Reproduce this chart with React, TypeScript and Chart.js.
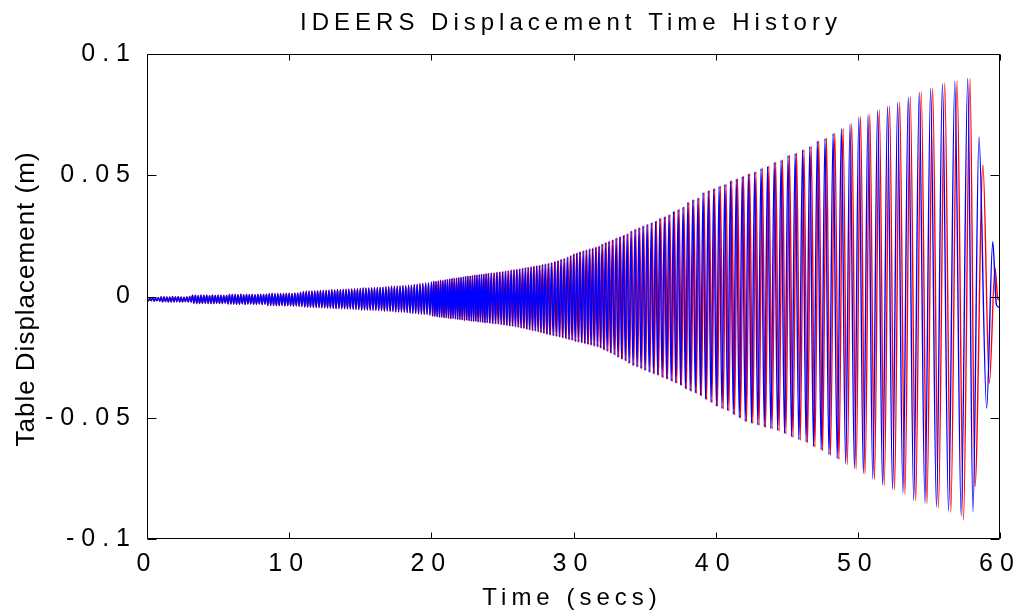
import React, { useEffect, useRef } from "react";
import { Chart, registerables } from "chart.js";

Chart.register(...registerables);

const chartTitle = "IDEERS Displacement Time History";
const xAxisTitle = "Time (secs)";
const yAxisTitle = "Table Displacement (m)";

const xTicks = [0, 10, 20, 30, 40, 50, 60];
const yTicks = [-0.1, -0.05, 0, 0.05, 0.1];
const yTickLabels = ["-0.1", "-0.05", "0", "0.05", "0.1"];

// Early part (0-20 s): dense, unresolvable oscillation band, sampled at its extremes
const earlyTimes = [
  0, 0.1, 0.2, 0.3, 0.4, 0.5, 0.6, 0.7, 0.8, 0.9,
  1, 1.1, 1.2, 1.3, 1.4, 1.5, 1.6, 1.7, 1.8, 1.9,
  2, 2.1, 2.2, 2.3, 2.4, 2.5, 2.6, 2.7, 2.8, 2.9,
  3, 3.1, 3.2, 3.3, 3.4, 3.5, 3.6, 3.7, 3.8, 3.9,
  4, 4.1, 4.2, 4.3, 4.4, 4.5, 4.6, 4.7, 4.8, 4.9,
  5, 5.1, 5.2, 5.3, 5.4, 5.5, 5.6, 5.7, 5.8, 5.9,
  6, 6.1, 6.2, 6.3, 6.4, 6.5, 6.6, 6.7, 6.8, 6.9,
  7, 7.1, 7.2, 7.3, 7.4, 7.5, 7.6, 7.7, 7.8, 7.9,
  8, 8.1, 8.2, 8.3, 8.4, 8.5, 8.6, 8.7, 8.8, 8.9,
  9, 9.1, 9.2, 9.3, 9.4, 9.5, 9.6, 9.7, 9.8, 9.9,
  10, 10.1, 10.2, 10.3, 10.4, 10.5, 10.6, 10.7, 10.8, 10.9,
  11, 11.1, 11.2, 11.3, 11.4, 11.5, 11.6, 11.7, 11.8, 11.9,
  12, 12.1, 12.2, 12.3, 12.4, 12.5, 12.6, 12.7, 12.8, 12.9,
  13, 13.1, 13.2, 13.3, 13.4, 13.5, 13.6, 13.7, 13.8, 13.9,
  14, 14.1, 14.2, 14.3, 14.4, 14.5, 14.6, 14.7, 14.8, 14.9,
  15, 15.1, 15.2, 15.3, 15.4, 15.5, 15.6, 15.7, 15.8, 15.9,
  16, 16.1, 16.2, 16.3, 16.4, 16.5, 16.6, 16.7, 16.8, 16.9,
  17, 17.1, 17.2, 17.3, 17.4, 17.5, 17.6, 17.7, 17.8, 17.9,
  18, 18.1, 18.2, 18.3, 18.4, 18.5, 18.6, 18.7, 18.8, 18.9,
  19, 19.1, 19.2, 19.3, 19.4, 19.5, 19.6, 19.7, 19.8, 19.9,
];

const blueEarly = [
  -0.0006, -0.0018, -0.0007, -0.0017, -0.0005, -0.0019, -0.0006, -0.0018, -0.0005, -0.0019,
  -0.0002, -0.0022, -0.0001, -0.0021, -0.0003, -0.0022, -0.0002, -0.0023, -0.0001, -0.0022,
  -0.0002, -0.0021, -0.0001, -0.0023, -0.0002, -0.0022, -0.0003, -0.0021, -0.0002, -0.0022,
  -0.0001, -0.0023, 0.0004, -0.0028, 0.0005, -0.0027, 0.0003, -0.0029, 0.0004, -0.0028,
  0.0005, -0.0027, 0.0004, -0.0028, 0.0003, -0.0029, 0.0005, -0.0028, 0.0004, -0.0027,
  0.0004, -0.0029, 0.0005, -0.0028, 0.0003, -0.0027, 0.0004, -0.0031, 0.0007, -0.003,
  0.0008, -0.0031, 0.0006, -0.0032, 0.0007, -0.0031, 0.0008, -0.003, 0.0006, -0.0032,
  0.0007, -0.0031, 0.0008, -0.003, 0.0007, -0.0032, 0.0006, -0.0031, 0.0008, -0.0031,
  0.0007, -0.0032, 0.0008, -0.0031, 0.0009, -0.0036, 0.0012, -0.0037, 0.0013, -0.0036,
  0.0012, -0.0038, 0.0011, -0.0037, 0.0013, -0.0036, 0.0012, -0.0038, 0.0014, -0.0037,
  0.0013, -0.0038, 0.0012, -0.0039, 0.0014, -0.0038, 0.0015, -0.004, 0.0017, -0.0041,
  0.002, -0.0043, 0.0022, -0.0044, 0.0021, -0.0045, 0.0023, -0.0044, 0.0022, -0.0046,
  0.0024, -0.0045, 0.0023, -0.0047, 0.0025, -0.0046, 0.0024, -0.0048, 0.0026, -0.0047,
  0.0027, -0.0049, 0.0028, -0.005, 0.0029, -0.0049, 0.0028, -0.0051, 0.003, -0.005,
  0.0029, -0.0052, 0.0031, -0.0051, 0.003, -0.0053, 0.0032, -0.0052, 0.0031, -0.0054,
  0.0033, -0.0055, 0.0034, -0.0056, 0.0035, -0.0055, 0.0034, -0.0057, 0.0036, -0.0056,
  0.0035, -0.0058, 0.0037, -0.0057, 0.0036, -0.0059, 0.0038, -0.006, 0.0039, -0.0059,
  0.004, -0.0061, 0.0041, -0.0062, 0.0042, -0.0063, 0.0041, -0.0064, 0.0043, -0.0063,
  0.0044, -0.0065, 0.0045, -0.0066, 0.0046, -0.0068, 0.0048, -0.0069, 0.005, -0.007,
  0.0051, -0.0071, 0.0052, -0.0073, 0.0054, -0.0072, 0.0055, -0.0074, 0.0057, -0.0076,
];

const redEarly = [
  -0.0005, -0.0019, -0.0006, -0.0018, -0.0004, -0.002, -0.0007, -0.0017, -0.0004, -0.002,
  0.0, -0.0023, -0.0002, -0.0021, -0.0001, -0.0024, -0.0002, -0.0022, 0.0, -0.0023,
  -0.0001, -0.0022, 0.0, -0.0022, -0.0002, -0.0024, -0.0002, -0.0021, -0.0001, -0.0023,
  0.0001, -0.0022, 0.0006, -0.0027, 0.0004, -0.003, 0.0004, -0.0028, 0.0006, -0.0029,
  0.0004, -0.0028, 0.0006, -0.0029, 0.0003, -0.0028, 0.0006, -0.003, 0.0004, -0.0028,
  0.0006, -0.0028, 0.0004, -0.003, 0.0005, -0.0027, 0.0004, -0.003, 0.0009, -0.0032,
  0.0007, -0.0031, 0.0009, -0.0031, 0.0006, -0.0033, 0.0009, -0.003, 0.0007, -0.0033,
  0.0009, -0.003, 0.0007, -0.0032, 0.0009, -0.0031, 0.0007, -0.0033, 0.0008, -0.003,
  0.0009, -0.0033, 0.0007, -0.0032, 0.001, -0.0037, 0.0013, -0.0036, 0.0014, -0.0038,
  0.0012, -0.0037, 0.0014, -0.0038, 0.0012, -0.0037, 0.0014, -0.0039, 0.0013, -0.0038,
  0.0015, -0.0037, 0.0013, -0.004, 0.0015, -0.0039, 0.0014, -0.0041, 0.0018, -0.004,
  0.0021, -0.0044, 0.0021, -0.0045, 0.0023, -0.0044, 0.0022, -0.0046, 0.0024, -0.0045,
  0.0023, -0.0047, 0.0025, -0.0046, 0.0024, -0.0048, 0.0026, -0.0047, 0.0025, -0.0049,
  0.0029, -0.0048, 0.0027, -0.0051, 0.003, -0.005, 0.0029, -0.005, 0.0029, -0.0052,
  0.0031, -0.0051, 0.003, -0.0053, 0.0032, -0.0052, 0.0031, -0.0054, 0.0033, -0.0053,
  0.0032, -0.0056, 0.0036, -0.0055, 0.0034, -0.0057, 0.0036, -0.0056, 0.0035, -0.0058,
  0.0037, -0.0057, 0.0036, -0.0059, 0.0038, -0.0058, 0.0037, -0.0061, 0.004, -0.006,
  0.0039, -0.0062, 0.0043, -0.0061, 0.0041, -0.0064, 0.0043, -0.0063, 0.0042, -0.0065,
  0.0046, -0.0064, 0.0044, -0.0067, 0.0048, -0.0067, 0.0047, -0.007, 0.0051, -0.0069,
  0.005, -0.0072, 0.0054, -0.0072, 0.0053, -0.0074, 0.0056, -0.0073, 0.0056, -0.0077,
];

// Later part (20-60 s): blue trace extremes (time, value)
const blueTimes = [
  20.0, 20.08, 20.16, 20.24, 20.32, 20.4, 20.48, 20.56, 20.64, 20.72,
  20.8, 20.88, 20.96, 21.04, 21.12, 21.2, 21.28, 21.36, 21.44, 21.52,
  21.6, 21.68, 21.76, 21.84, 21.92, 22.0, 22.08, 22.16, 22.24, 22.32,
  22.4, 22.48, 22.56, 22.64, 22.72, 22.8, 22.88, 22.96, 23.04, 23.12,
  23.2, 23.28, 23.36, 23.44, 23.52, 23.6, 23.68, 23.76, 23.84, 23.92,
  24.0, 24.1, 24.2, 24.3, 24.4, 24.5, 24.6, 24.7, 24.8, 24.9,
  25.0, 25.1, 25.2, 25.3, 25.4, 25.5, 25.6, 25.7, 25.8, 25.9,
  26.0, 26.1, 26.2, 26.3, 26.4, 26.5, 26.6, 26.7, 26.8, 26.9,
  27.0, 27.1, 27.2, 27.3, 27.4, 27.5, 27.6, 27.7, 27.8, 27.9,
  28.0, 28.11, 28.22, 28.33, 28.44, 28.56, 28.67, 28.78, 28.89, 29.0,
  29.11, 29.22, 29.33, 29.44, 29.56, 29.67, 29.78, 29.89, 30.0, 30.11,
  30.22, 30.33, 30.44, 30.56, 30.67, 30.78, 30.89, 31.0, 31.11, 31.22,
  31.33, 31.44, 31.56, 31.67, 31.78, 31.89,
  32.0, 32.12, 32.24, 32.36, 32.48, 32.6, 32.73, 32.86, 32.99, 33.12,
  33.25, 33.38, 33.51, 33.64, 33.77, 33.9, 34.04, 34.18, 34.32, 34.46,
  34.6, 34.74, 34.88, 35.02, 35.17, 35.32, 35.47, 35.62, 35.77, 35.92,
  36.07, 36.23, 36.39, 36.55, 36.71, 36.87, 37.03, 37.19, 37.36, 37.53,
  37.7, 37.87, 38.04, 38.21, 38.39, 38.57, 38.75, 38.93, 39.11, 39.29,
  39.48, 39.67, 39.86, 40.05, 40.24, 40.44, 40.64, 40.84, 41.04, 41.24,
  41.45, 41.66, 41.87, 42.08, 42.3, 42.52, 42.74, 42.96, 43.19, 43.42,
  43.65, 43.88, 44.12, 44.36, 44.6, 44.84, 45.09, 45.34, 45.59, 45.85,
  46.11, 46.36, 46.62, 46.88, 47.15, 47.42, 47.69, 47.97, 48.26, 48.55,
  48.84, 49.14, 49.45, 49.76, 50.07, 50.39, 50.72, 51.05, 51.39, 51.74,
  52.09, 52.44, 52.8, 53.17, 53.55, 53.93, 54.32, 54.72, 55.12, 55.53,
  55.95, 56.38, 56.82, 57.27, 57.73, 58.1, 58.52, 59.06, 59.49, 59.75,
  60.0,
];

const blueValues = [
  0.006, -0.008, 0.0062, -0.0082, 0.0061, -0.0083, 0.0064, -0.0084, 0.0066, -0.0085,
  0.0065, -0.0087, 0.0068, -0.0088, 0.007, -0.0089, 0.0071, -0.0091, 0.0073, -0.009,
  0.0075, -0.0092, 0.0074, -0.0094, 0.0077, -0.0095, 0.0079, -0.0096, 0.008, -0.0098,
  0.0082, -0.0097, 0.0084, -0.0099, 0.0083, -0.0101, 0.0086, -0.0102, 0.0087, -0.0101,
  0.0089, -0.0104, 0.009, -0.0105, 0.0092, -0.0106, 0.0091, -0.0108, 0.0094, -0.0107,
  0.0095, -0.0109, 0.0097, -0.0111, 0.0096, -0.0112, 0.0099, -0.0114, 0.0101, -0.0115,
  0.0102, -0.0117, 0.0104, -0.0118, 0.0106, -0.0121, 0.0108, -0.0122, 0.011, -0.0124,
  0.0112, -0.0126, 0.0113, -0.0129, 0.0115, -0.0131, 0.0118, -0.0134, 0.012, -0.0137,
  0.0122, -0.014, 0.0124, -0.0142, 0.0126, -0.0145, 0.0128, -0.0148, 0.0131, -0.0151,
  0.0133, -0.0155, 0.0136, -0.0158, 0.0139, -0.0161, 0.0143, -0.0164, 0.0147, -0.0167,
  0.0152, -0.017, 0.0157, -0.0173, 0.0162, -0.0177, 0.0168, -0.018, 0.0175, -0.0185,
  0.0179, -0.0188, 0.0184, -0.019, 0.0188, -0.0194, 0.0193, -0.0197, 0.0196, -0.02,
  0.0199, -0.0204, 0.0203, -0.0207, 0.0207, -0.0212,
  0.0216, -0.0219, 0.0222, -0.0226, 0.0227, -0.0233, 0.0233, -0.024, 0.024, -0.0251,
  0.0246, -0.0258, 0.0252, -0.0265, 0.0258, -0.0276, 0.0269, -0.0284, 0.0276, -0.029,
  0.0283, -0.0296, 0.029, -0.0305, 0.0297, -0.0312, 0.0303, -0.0318, 0.031, -0.0324,
  0.0322, -0.0333, 0.0328, -0.034, 0.0336, -0.0348, 0.035, -0.0356, 0.0358, -0.0366,
  0.0368, -0.038, 0.0388, -0.039, 0.0398, -0.0398, 0.0405, -0.0408, 0.0428, -0.0424,
  0.0436, -0.0436, 0.0444, -0.0452, 0.0455, -0.0462, 0.0462, -0.047, 0.0476, -0.0486,
  0.0484, -0.05, 0.0495, -0.0515, 0.0505, -0.0522, 0.0513, -0.053, 0.0528, -0.0538,
  0.0536, -0.0544, 0.0553, -0.0552, 0.0562, -0.0565, 0.0581, -0.0578, 0.059, -0.059,
  0.0604, -0.06, 0.0618, -0.0618, 0.064, -0.0632, 0.0652, -0.0652, 0.0672, -0.0668,
  0.0692, -0.069, 0.0712, -0.071, 0.074, -0.073, 0.075, -0.0752, 0.0768, -0.0778,
  0.0785, -0.0795, 0.08, -0.0812, 0.0822, -0.084, 0.0842, -0.0852, 0.0858, -0.0868,
  0.0878, -0.0885, 0.0888, -0.0905, 0.09, -0.0887, 0.0658, -0.046, 0.0226, -0.0035,
  -0.0045,
];

// Later part (20-60 s): red trace extremes (time, value)
const redTimes = [
  20.03, 20.11, 20.19, 20.27, 20.35, 20.43, 20.51, 20.59, 20.67, 20.75,
  20.83, 20.91, 20.99, 21.07, 21.15, 21.23, 21.31, 21.39, 21.47, 21.55,
  21.63, 21.71, 21.79, 21.87, 21.95, 22.03, 22.11, 22.19, 22.27, 22.35,
  22.43, 22.51, 22.59, 22.67, 22.75, 22.83, 22.91, 22.99, 23.07, 23.15,
  23.23, 23.31, 23.39, 23.47, 23.55, 23.63, 23.71, 23.79, 23.87, 23.95,
  24.04, 24.14, 24.24, 24.34, 24.44, 24.54, 24.64, 24.74, 24.84, 24.94,
  25.04, 25.14, 25.24, 25.34, 25.44, 25.54, 25.64, 25.74, 25.84, 25.94,
  26.04, 26.14, 26.24, 26.34, 26.44, 26.54, 26.64, 26.74, 26.84, 26.94,
  27.04, 27.14, 27.24, 27.34, 27.44, 27.54, 27.64, 27.74, 27.84, 27.94,
  28.05, 28.16, 28.27, 28.38, 28.49, 28.61, 28.72, 28.83, 28.94, 29.05,
  29.16, 29.27, 29.38, 29.49, 29.61, 29.72, 29.83, 29.94, 30.05, 30.16,
  30.27, 30.38, 30.49, 30.61, 30.72, 30.83, 30.94, 31.05, 31.16, 31.27,
  31.38, 31.49, 31.61, 31.72, 31.83, 31.94,
  32.06, 32.18, 32.3, 32.42, 32.54, 32.66, 32.79, 32.92, 33.05, 33.18,
  33.31, 33.44, 33.57, 33.7, 33.83, 33.96, 34.1, 34.24, 34.38, 34.52,
  34.66, 34.8, 34.94, 35.08, 35.23, 35.38, 35.53, 35.68, 35.83, 35.98,
  36.14, 36.3, 36.46, 36.62, 36.78, 36.94, 37.1, 37.26, 37.43, 37.6,
  37.77, 37.94, 38.11, 38.28, 38.46, 38.64, 38.82, 39.0, 39.18, 39.36,
  39.55, 39.74, 39.93, 40.12, 40.33, 40.53, 40.73, 40.93, 41.13, 41.33,
  41.54, 41.75, 41.96, 42.17, 42.39, 42.61, 42.83, 43.05, 43.28, 43.51,
  43.74, 43.97, 44.22, 44.46, 44.7, 44.94, 45.19, 45.44, 45.69, 45.95,
  46.21, 46.46, 46.72, 46.98, 47.25, 47.52, 47.79, 48.07, 48.38, 48.67,
  48.96, 49.26, 49.57, 49.88, 50.19, 50.51, 50.84, 51.17, 51.51, 51.86,
  52.23, 52.58, 52.94, 53.31, 53.69, 54.07, 54.46, 54.86, 55.26, 55.67,
  56.11, 56.54, 56.98, 57.43, 57.89, 58.24, 58.8, 59.25, 59.65, 59.85,
  60.0,
];

const redValues = [
  0.0058, -0.0081, 0.0063, -0.008, 0.0062, -0.0084, 0.0063, -0.0086, 0.0067, -0.0084,
  0.0066, -0.0088, 0.0069, -0.0087, 0.0069, -0.009, 0.0072, -0.0092, 0.0074, -0.0091,
  0.0074, -0.0093, 0.0076, -0.0095, 0.0078, -0.0094, 0.0078, -0.0097, 0.0081, -0.0099,
  0.0083, -0.0098, 0.0083, -0.01, 0.0085, -0.0102, 0.0085, -0.0103, 0.0088, -0.0102,
  0.0088, -0.0105, 0.0091, -0.0104, 0.0091, -0.0107, 0.0093, -0.0109, 0.0095, -0.0108,
  0.0096, -0.011, 0.0096, -0.0112, 0.0098, -0.0113, 0.01, -0.0113, 0.01, -0.0116,
  0.0103, -0.0118, 0.0105, -0.0119, 0.0105, -0.0122, 0.0109, -0.0123, 0.0111, -0.0125,
  0.0111, -0.0127, 0.0114, -0.013, 0.0117, -0.0132, 0.0119, -0.0135, 0.0119, -0.0138,
  0.0123, -0.0141, 0.0125, -0.0141, 0.0127, -0.0146, 0.0129, -0.0149, 0.0132, -0.0152,
  0.0134, -0.0156, 0.0137, -0.0159, 0.0138, -0.0162, 0.0144, -0.0165, 0.0148, -0.0166,
  0.0153, -0.0171, 0.0156, -0.0174, 0.0163, -0.0178, 0.0169, -0.0181, 0.0176, -0.0186,
  0.018, -0.0187, 0.0185, -0.0191, 0.0189, -0.0195, 0.0192, -0.0198, 0.0197, -0.0201,
  0.02, -0.0205, 0.0204, -0.0208, 0.0208, -0.0213,
  0.0217, -0.0221, 0.0223, -0.0227, 0.0229, -0.0234, 0.0234, -0.0242, 0.0242, -0.025,
  0.0247, -0.0259, 0.0254, -0.0266, 0.026, -0.0275, 0.027, -0.0285, 0.0278, -0.0291,
  0.0284, -0.0298, 0.0292, -0.0304, 0.0298, -0.0313, 0.0305, -0.0319, 0.0312, -0.0325,
  0.0323, -0.0335, 0.033, -0.0341, 0.0338, -0.035, 0.0351, -0.0358, 0.036, -0.0367,
  0.037, -0.0382, 0.0389, -0.0392, 0.04, -0.04, 0.0407, -0.041, 0.0429, -0.0426,
  0.0437, -0.0438, 0.0446, -0.0453, 0.0456, -0.0464, 0.0464, -0.0472, 0.0478, -0.0488,
  0.0486, -0.0502, 0.0497, -0.0516, 0.0507, -0.0524, 0.0515, -0.0532, 0.053, -0.054,
  0.0538, -0.0546, 0.0555, -0.0555, 0.0564, -0.0567, 0.0583, -0.0581, 0.0592, -0.0593,
  0.0606, -0.0603, 0.062, -0.0621, 0.0641, -0.0636, 0.0654, -0.0655, 0.0674, -0.0672,
  0.0694, -0.0694, 0.0714, -0.0713, 0.0742, -0.0733, 0.0752, -0.0756, 0.077, -0.0781,
  0.0787, -0.0798, 0.0803, -0.0816, 0.0825, -0.0843, 0.0845, -0.0856, 0.086, -0.0872,
  0.088, -0.089, 0.089, -0.0922, 0.0899, -0.0784, 0.0542, -0.0357, 0.0118, -0.001,
  -0.0015,
];

const FONT = '"Liberation Sans", Arial, Helvetica, sans-serif';

function buildSeries(t1: number[], v1: number[], t2: number[], v2: number[]) {
  const pts: { x: number; y: number }[] = [];
  t1.forEach((t, i) => {
    if (v1[i] !== undefined) pts.push({ x: t, y: v1[i] });
  });
  t2.forEach((t, i) => {
    if (v2[i] !== undefined) pts.push({ x: t, y: v2[i] });
  });
  return pts;
}

const framePlugin = {
  id: "matlabFrame",
  beforeLayout(chart: any) {
    chart.ctx.letterSpacing = "7px";
  },
  beforeDraw(chart: any) {
    chart.ctx.letterSpacing = "7px";
  },
  afterDraw(chart: any) {
    const { ctx, chartArea: a, scales } = chart;
    ctx.save();
    ctx.letterSpacing = "0px";
    ctx.strokeStyle = "#000";
    ctx.lineWidth = 1;
    const L = Math.round(a.left) + 0.5;
    const R = Math.round(a.right) - 0.5;
    const T = Math.round(a.top) + 0.5;
    const B = Math.round(a.bottom) - 0.5;
    ctx.beginPath();
    ctx.rect(L, T, R - L, B - T);
    xTicks.forEach((v) => {
      const px = Math.round(scales.x.getPixelForValue(v)) + 0.5;
      ctx.moveTo(px, B);
      ctx.lineTo(px, B - 6);
      ctx.moveTo(px, T);
      ctx.lineTo(px, T + 6);
    });
    yTicks.forEach((v) => {
      const py = Math.round(scales.y.getPixelForValue(v)) + 0.5;
      ctx.moveTo(L, py);
      ctx.lineTo(L + 9, py);
      ctx.moveTo(R, py);
      ctx.lineTo(R - 9, py);
    });
    ctx.stroke();

    ctx.fillStyle = "#000";
    ctx.textAlign = "center";
    ctx.textBaseline = "alphabetic";
    ctx.font = `24px ${FONT}`;
    ctx.letterSpacing = "5px";
    ctx.fillText(chartTitle, 571, 30);
    ctx.fillText(xAxisTitle, 572, 605);
    ctx.font = `26px ${FONT}`;
    ctx.letterSpacing = "1px";
    ctx.translate(34, 299);
    ctx.rotate(-Math.PI / 2);
    ctx.fillText(yAxisTitle, 0, 0);
    ctx.restore();
  },
};

export default function App() {
  const ref = useRef<HTMLCanvasElement>(null);

  useEffect(() => {
    const canvas = ref.current;
    if (!canvas) return;
    const blueData = buildSeries(earlyTimes, blueEarly, blueTimes, blueValues);
    const redData = buildSeries(earlyTimes, redEarly, redTimes, redValues);

    const chart = new Chart(canvas, {
      type: "line",
      data: {
        datasets: [
          {
            label: "Blue",
            data: blueData,
            borderColor: "#0000ff",
            borderWidth: 1.4,
            pointRadius: 0,
            fill: false,
            cubicInterpolationMode: "monotone",
          },
          {
            label: "Red",
            data: redData,
            borderColor: "#ff0000",
            borderWidth: 1.4,
            pointRadius: 0,
            fill: false,
            cubicInterpolationMode: "monotone",
          },
        ],
      } as any,
      options: {
        animation: false,
        responsive: false,
        events: [],
        layout: { padding: { top: 54, right: 18, bottom: 0, left: 0 } },
        plugins: {
          legend: { display: false },
          tooltip: { enabled: false },
          title: { display: false },
        },
        scales: {
          x: {
            type: "linear",
            min: 0,
            max: 60,
            afterBuildTicks: (s: any) => {
              s.ticks = xTicks.map((v) => ({ value: v }));
            },
            afterFit: (s: any) => {
              s.height = 71;
              s.paddingLeft = 0;
              s.paddingRight = 0;
            },
            grid: { display: false, drawTicks: false },
            border: { display: false },
            ticks: {
              color: "#000",
              font: { family: FONT, size: 25 },
              padding: 10,
              maxRotation: 0,
              autoSkip: false,
              callback: (v: any) => String(v),
            },
          },
          y: {
            type: "linear",
            min: -0.1,
            max: 0.1,
            afterBuildTicks: (s: any) => {
              s.ticks = yTicks.map((v) => ({ value: v }));
            },
            afterFit: (s: any) => {
              s.width = 147;
              s.paddingTop = 0;
              s.paddingBottom = 0;
            },
            grid: { display: false, drawTicks: false },
            border: { display: false },
            ticks: {
              color: "#000",
              font: { family: FONT, size: 25 },
              padding: 10,
              autoSkip: false,
              callback: (v: any) => {
                const i = yTicks.findIndex((t) => Math.abs(t - v) < 1e-9);
                return i >= 0 ? yTickLabels[i] : "";
              },
            },
          },
        },
      } as any,
      plugins: [framePlugin],
    });
    return () => chart.destroy();
  }, []);

  return (
    <div style={{ position: "fixed", left: 0, top: 0, width: 1018, height: 610, background: "#fff" }}>
      <canvas ref={ref} width={1018} height={610} style={{ display: "block" }} />
    </div>
  );
}
